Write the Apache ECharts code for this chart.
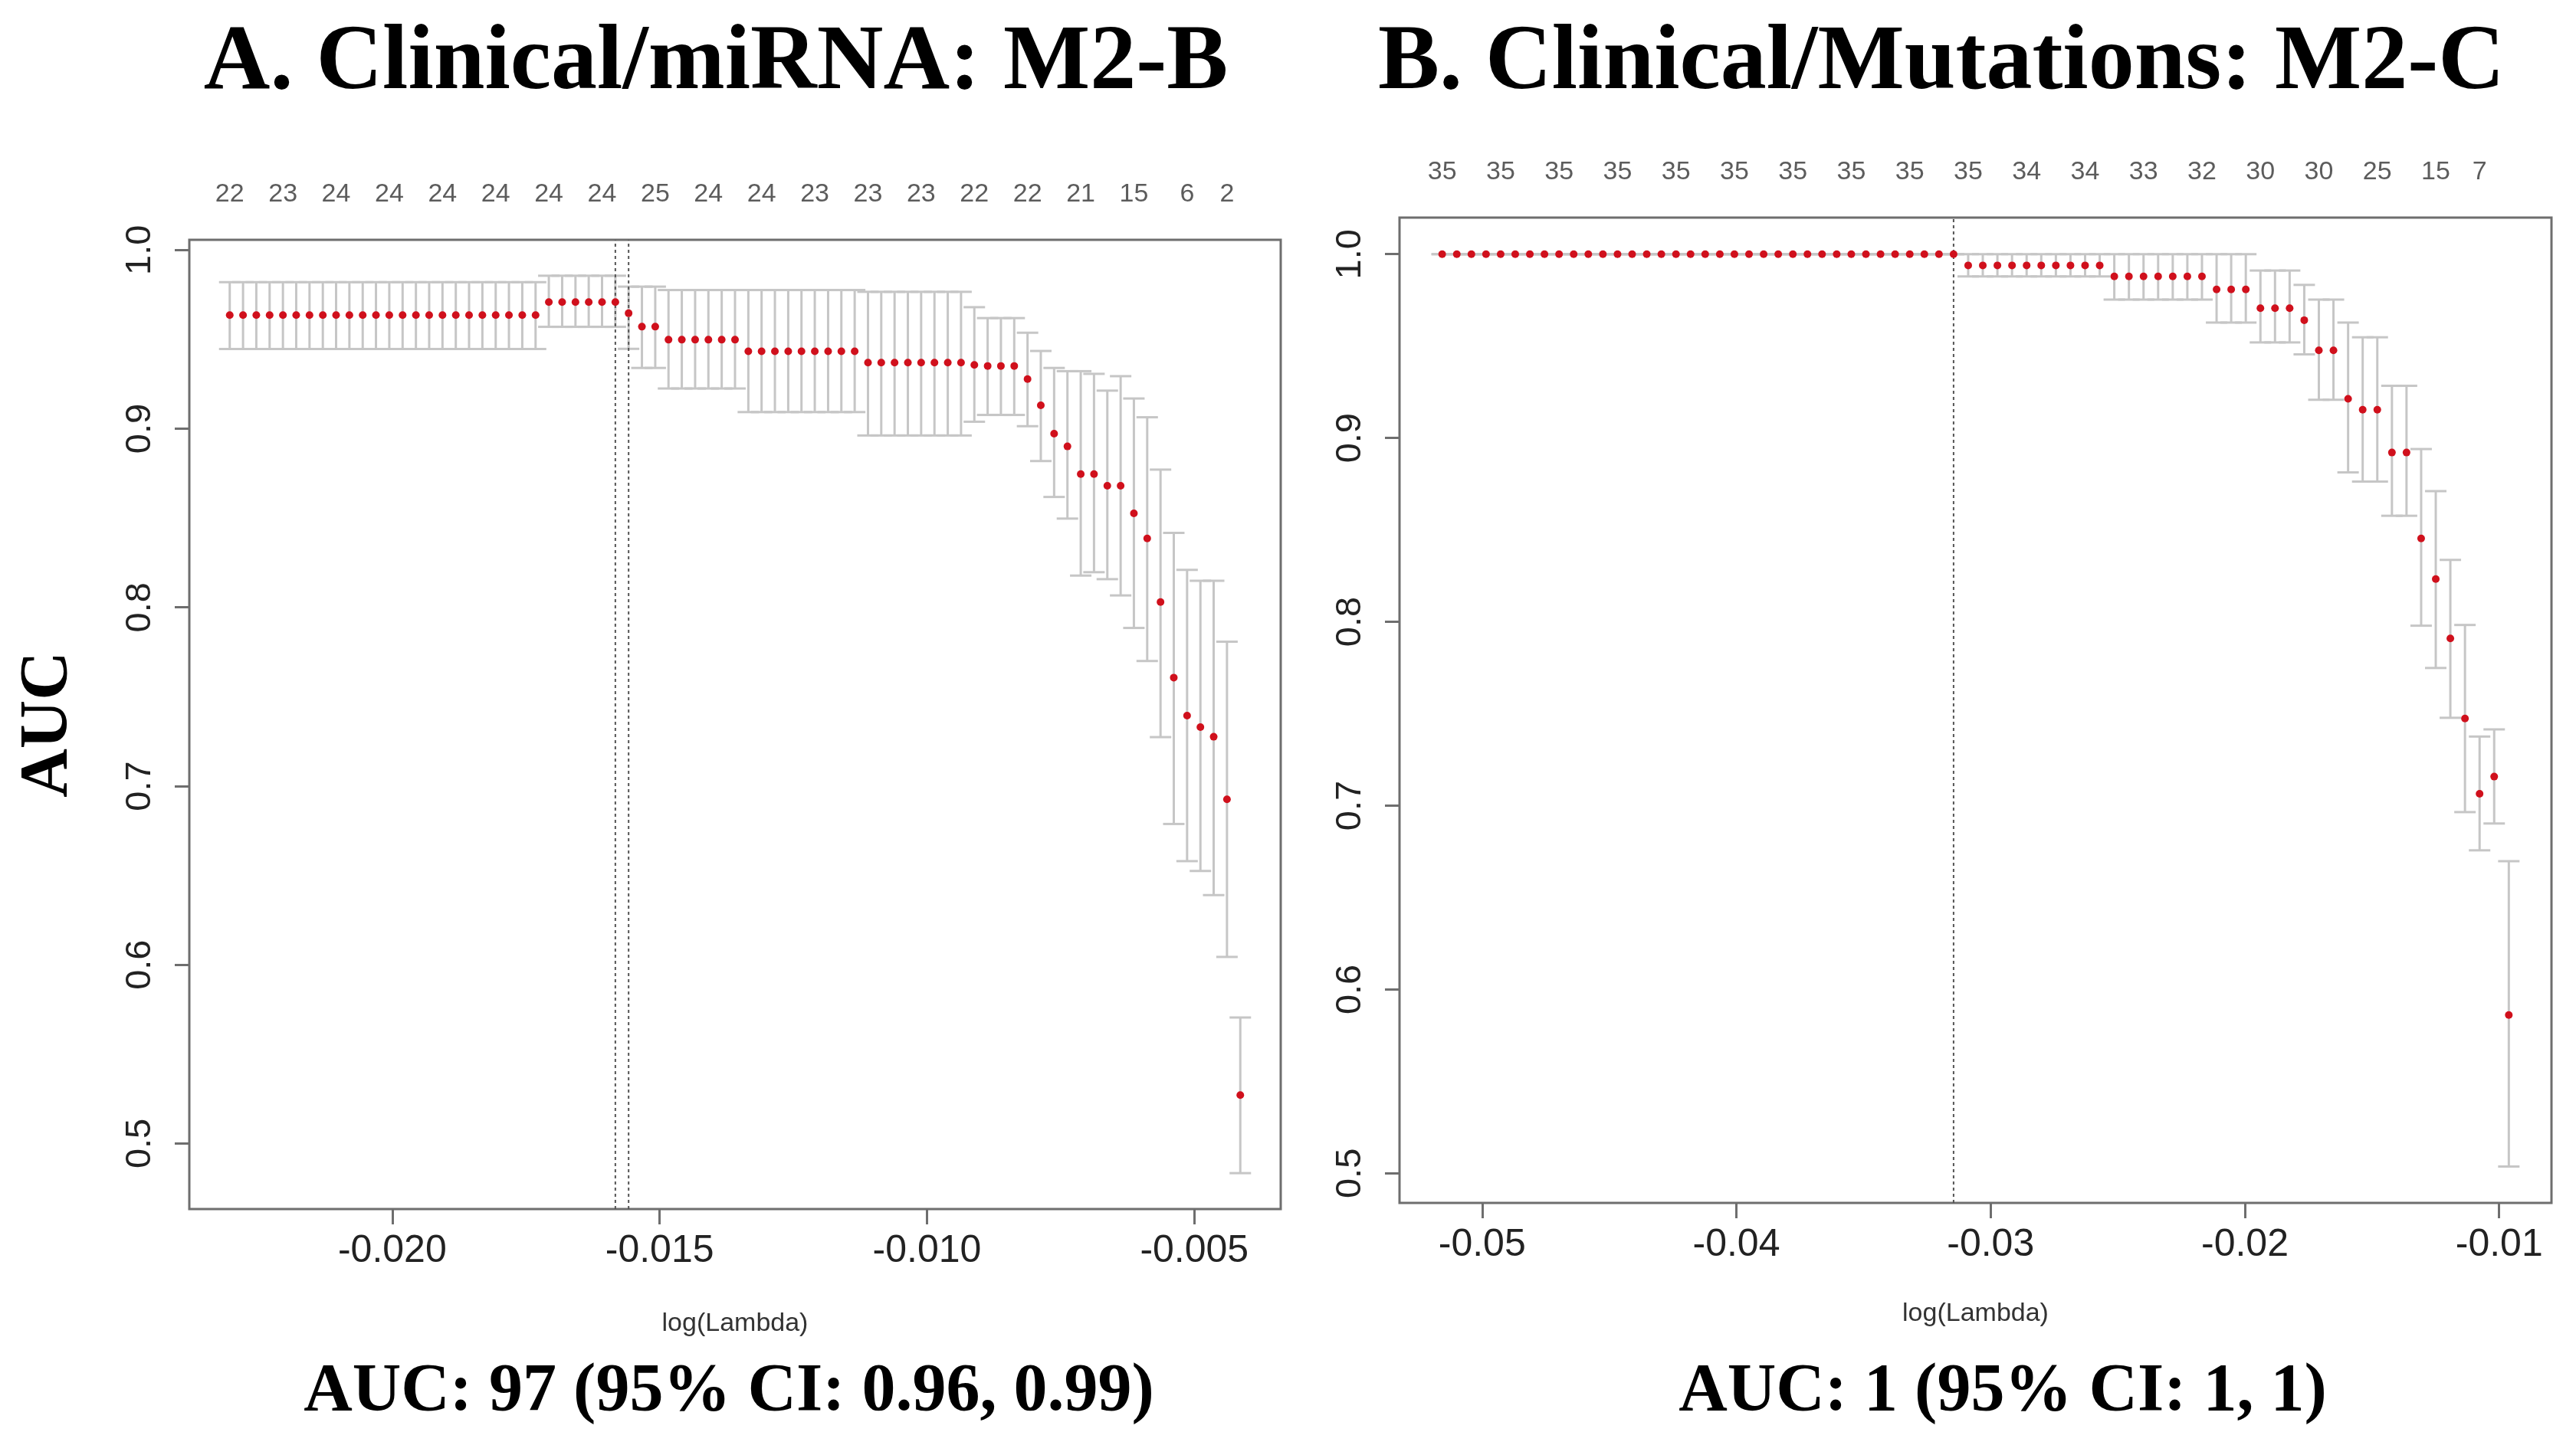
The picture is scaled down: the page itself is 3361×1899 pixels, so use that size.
<!DOCTYPE html>
<html>
<head>
<meta charset="utf-8">
<script src="https://cdn.jsdelivr.net/npm/echarts@6/dist/echarts.min.js"></script>
<style>
html,body{margin:0;padding:0;background:#ffffff;}
#chart{width:3361px;height:1899px;}
</style>
</head>
<body>
<div id="chart"></div>
<script>
// ---------------- Panel A: Clinical/miRNA (M2-B) ----------------
const leftLogLambda = [
-0.023040,-0.022791,-0.022543,-0.022294,-0.022045,-0.021797,-0.021548,-0.021299,-0.021051,-0.020802,
-0.020553,-0.020305,-0.020056,-0.019807,-0.019558,-0.019310,-0.019061,-0.018812,-0.018564,-0.018315,
-0.018066,-0.017818,-0.017569,-0.017320,-0.017072,-0.016823,-0.016574,-0.016326,-0.016077,-0.015828,
-0.015580,-0.015331,-0.015082,-0.014834,-0.014585,-0.014336,-0.014088,-0.013839,-0.013590,-0.013341,
-0.013093,-0.012844,-0.012595,-0.012347,-0.012098,-0.011849,-0.011601,-0.011352,-0.011103,-0.010855,
-0.010606,-0.010357,-0.010109,-0.009860,-0.009611,-0.009363,-0.009114,-0.008865,-0.008617,-0.008368,
-0.008119,-0.007871,-0.007622,-0.007373,-0.007124,-0.006876,-0.006627,-0.006378,-0.006130,-0.005881,
-0.005632,-0.005384,-0.005135,-0.004886,-0.004638,-0.004389,-0.004140
];
const leftAUC = [
0.9636,0.9636,0.9636,0.9636,0.9636,0.9636,0.9636,0.9636,0.9636,0.9636,
0.9636,0.9636,0.9636,0.9636,0.9636,0.9636,0.9636,0.9636,0.9636,0.9636,
0.9636,0.9636,0.9636,0.9636,0.9709,0.9709,0.9709,0.9709,0.9709,0.9709,
0.9646,0.9571,0.9571,0.9498,0.9498,0.9498,0.9498,0.9498,0.9498,0.9433,
0.9433,0.9433,0.9433,0.9433,0.9433,0.9433,0.9433,0.9433,0.9370,0.9370,
0.9370,0.9370,0.9370,0.9370,0.9370,0.9370,0.9357,0.9351,0.9351,0.9351,
0.9278,0.9131,0.8972,0.8901,0.8746,0.8746,0.8681,0.8681,0.8526,0.8386,
0.8030,0.7607,0.7394,0.7330,0.7276,0.6926,0.5271
];
const leftUpper = [
0.9820,0.9820,0.9820,0.9820,0.9820,0.9820,0.9820,0.9820,0.9820,0.9820,
0.9820,0.9820,0.9820,0.9820,0.9820,0.9820,0.9820,0.9820,0.9820,0.9820,
0.9820,0.9820,0.9820,0.9820,0.9856,0.9856,0.9856,0.9856,0.9856,0.9856,
0.9795,0.9795,0.9795,0.9776,0.9776,0.9776,0.9776,0.9776,0.9776,0.9776,
0.9776,0.9776,0.9776,0.9776,0.9776,0.9776,0.9776,0.9776,0.9766,0.9766,
0.9766,0.9766,0.9766,0.9766,0.9766,0.9766,0.9680,0.9619,0.9619,0.9619,
0.9537,0.9435,0.9340,0.9322,0.9322,0.9307,0.9213,0.9294,0.9169,0.9064,
0.8771,0.8417,0.8210,0.8149,0.8149,0.7808,0.5705
];
const leftLower = [
0.9446,0.9446,0.9446,0.9446,0.9446,0.9446,0.9446,0.9446,0.9446,0.9446,
0.9446,0.9446,0.9446,0.9446,0.9446,0.9446,0.9446,0.9446,0.9446,0.9446,
0.9446,0.9446,0.9446,0.9446,0.9570,0.9570,0.9570,0.9570,0.9570,0.9570,
0.9447,0.9340,0.9340,0.9225,0.9225,0.9225,0.9225,0.9225,0.9225,0.9093,
0.9093,0.9093,0.9093,0.9093,0.9093,0.9093,0.9093,0.9093,0.8962,0.8962,
0.8962,0.8962,0.8962,0.8962,0.8962,0.8962,0.9039,0.9077,0.9077,0.9077,
0.9014,0.8819,0.8618,0.8497,0.8178,0.8197,0.8158,0.8067,0.7885,0.7700,
0.7274,0.6788,0.6580,0.6525,0.6390,0.6044,0.4834
];
const leftNzAt = [0,4,8,12,16,20,24,28,32,36,40,44,48,52,56,60,64,68,72,75];
const leftNzLabels = ['22','23','24','24','24','24','24','24','25','24','24','23','23','23','22','22','21','15','6','2'];
const leftVLines = [-0.015828, -0.015580];
const leftXTicks = [-0.020, -0.015, -0.010, -0.005];
const leftXRange = [-0.023796, -0.003384];
const leftYRange = [0.4633, 1.0057];

// ---------------- Panel B: Clinical/Mutations (M2-C) ----------------
const rightLogLambda = [
-0.051570,-0.050995,-0.050421,-0.049846,-0.049271,-0.048697,-0.048122,-0.047547,-0.046973,-0.046398,
-0.045823,-0.045249,-0.044674,-0.044099,-0.043525,-0.042950,-0.042375,-0.041801,-0.041226,-0.040651,
-0.040077,-0.039502,-0.038927,-0.038353,-0.037778,-0.037204,-0.036629,-0.036054,-0.035480,-0.034905,
-0.034330,-0.033756,-0.033181,-0.032606,-0.032032,-0.031457,-0.030882,-0.030308,-0.029733,-0.029158,
-0.028584,-0.028009,-0.027434,-0.026860,-0.026285,-0.025710,-0.025136,-0.024561,-0.023986,-0.023412,
-0.022837,-0.022263,-0.021688,-0.021113,-0.020539,-0.019964,-0.019389,-0.018815,-0.018240,-0.017665,
-0.017091,-0.016516,-0.015941,-0.015367,-0.014792,-0.014217,-0.013643,-0.013068,-0.012493,-0.011919,
-0.011344,-0.010769,-0.010195,-0.009620
];
const rightAUC = [
1,1,1,1,1,1,1,1,1,1,1,1,1,1,1,1,1,1,1,1,1,1,1,1,1,1,1,1,1,1,1,1,1,1,1,1,
0.9939,0.9939,0.9939,0.9939,0.9939,0.9939,0.9939,0.9939,0.9939,0.9939,
0.9879,0.9879,0.9879,0.9879,0.9879,0.9879,0.9879,
0.9808,0.9808,0.9808,
0.9706,0.9706,0.9706,
0.9641,0.9477,0.9477,0.9213,0.9154,0.9154,0.8921,0.8921,0.8454,0.8233,
0.7910,0.7474,0.7065,0.7158,0.5861
];
const rightUpper = [
1,1,1,1,1,1,1,1,1,1,1,1,1,1,1,1,1,1,1,1,1,1,1,1,1,1,1,1,1,1,1,1,1,1,1,1,
1,1,1,1,1,1,1,1,1,1,
1,1,1,1,1,1,1,
1,1,1,
0.9911,0.9911,0.9911,
0.9833,0.9753,0.9753,0.9628,0.9548,0.9548,0.9284,0.9284,0.8940,0.8711,
0.8337,0.7983,0.7376,0.7415,0.6698
];
const rightLower = [
1,1,1,1,1,1,1,1,1,1,1,1,1,1,1,1,1,1,1,1,1,1,1,1,1,1,1,1,1,1,1,1,1,1,1,1,
0.9879,0.9879,0.9879,0.9879,0.9879,0.9879,0.9879,0.9879,0.9879,0.9879,
0.9753,0.9753,0.9753,0.9753,0.9753,0.9753,0.9753,
0.9628,0.9628,0.9628,
0.9520,0.9520,0.9520,
0.9455,0.9208,0.9208,0.8813,0.8763,0.8763,0.8577,0.8577,0.7979,0.7749,
0.7478,0.6965,0.6757,0.6903,0.5037
];
const rightNzAt = [0,4,8,12,16,20,24,28,32,36,40,44,48,52,56,60,64,68,71];
const rightNzLabels = ['35','35','35','35','35','35','35','35','35','35','34','34','33','32','30','30','25','15','7'];
const rightVLines = [-0.031457];
const rightXTicks = [-0.05, -0.04, -0.03, -0.02, -0.01];
const rightXRange = [-0.053248, -0.007942];
const rightYRange = [0.4839, 1.0199];

const yTicks = [0.5, 0.6, 0.7, 0.8, 0.9, 1.0];

const titles = ['A. Clinical/miRNA: M2-B', 'B. Clinical/Mutations: M2-C'];
const aucTexts = ['AUC: 97 (95% CI: 0.96, 0.99)', 'AUC: 1 (95% CI: 1, 1)'];

// ---------------- styling ----------------
const SANS = '"Liberation Sans", Arial, Helvetica, sans-serif';
const SERIF = '"Liberation Serif", "Times New Roman", serif';
const FRAME = '#6e6e6e';
const BAR = '#c6c6c6';
const DOT = '#d0101c';
const TXT = '#222222';

function errorBarRenderer(params, api) {
  const x = api.value(0), lo = api.value(1), hi = api.value(2);
  const pLo = api.coord([x, lo]);
  const pHi = api.coord([x, hi]);
  const w = 14;
  const style = { stroke: BAR, lineWidth: 3 };
  return {
    type: 'group',
    children: [
      { type: 'line', shape: { x1: pLo[0], y1: pLo[1], x2: pHi[0], y2: pHi[1] }, style },
      { type: 'line', shape: { x1: pHi[0] - w, y1: pHi[1], x2: pHi[0] + w, y2: pHi[1] }, style },
      { type: 'line', shape: { x1: pLo[0] - w, y1: pLo[1], x2: pLo[0] + w, y2: pLo[1] }, style }
    ]
  };
}

function xAxisFor(idx, range, ticks, digits, nameGap) {
  return {
    gridIndex: idx, type: 'value', min: range[0], max: range[1],
    axisLine: { show: false }, splitLine: { show: false },
    axisTick: { show: true, customValues: ticks, length: 20, lineStyle: { color: FRAME, width: 3 } },
    axisLabel: { customValues: ticks, formatter: v => v.toFixed(digits), fontSize: 50, color: TXT, margin: 30, fontFamily: SANS },
    name: 'log(Lambda)', nameLocation: 'middle', nameGap: nameGap,
    nameTextStyle: { fontSize: 34, color: '#333333', fontFamily: SANS }
  };
}
function yAxisFor(idx, range, withName) {
  const ax = {
    gridIndex: idx, type: 'value', min: range[0], max: range[1],
    axisLine: { show: false }, splitLine: { show: false },
    axisTick: { show: true, customValues: yTicks, length: 19, lineStyle: { color: FRAME, width: 3 } },
    axisLabel: { customValues: yTicks, formatter: v => v.toFixed(1), rotate: 90, fontSize: 47, color: TXT, margin: 40, fontFamily: SANS }
  };
  if (withName) {
    ax.name = 'AUC'; ax.nameLocation = 'middle'; ax.nameGap = 140; ax.nameRotate = 90;
    ax.nameTextStyle = { fontSize: 88, fontWeight: 'bold', color: '#000000', fontFamily: SERIF };
  }
  return ax;
}

function panelSeries(idx, xs, auc, lo, hi, nzAt, nzLabels, vlines, yRange) {
  const out = [
    {
      type: 'custom', xAxisIndex: idx, yAxisIndex: idx, z: 2, silent: true,
      renderItem: errorBarRenderer,
      encode: { x: 0, y: [1, 2] },
      data: xs.map((x, i) => [x, lo[i], hi[i]])
    },
    {
      type: 'scatter', xAxisIndex: idx, yAxisIndex: idx, z: 4, silent: true,
      symbol: 'circle', symbolSize: 10,
      itemStyle: { color: DOT, opacity: 1 },
      data: xs.map((x, i) => [x, auc[i]])
    },
    {
      type: 'scatter', xAxisIndex: idx, yAxisIndex: idx, z: 5, silent: true, clip: false,
      symbol: 'circle', symbolSize: 1, itemStyle: { color: 'rgba(0,0,0,0)' },
      data: nzAt.map(k => [xs[k], yRange[1]]),
      label: {
        show: true, position: 'top', distance: 42,
        formatter: p => nzLabels[p.dataIndex],
        fontSize: 34, color: '#333333', fontFamily: SANS
      }
    }
  ];
  vlines.forEach(v => {
    out.push({
      type: 'line', xAxisIndex: idx, yAxisIndex: idx, z: 3, silent: true,
      symbol: 'none', showSymbol: false,
      lineStyle: { type: [4, 4], color: '#555555', width: 2 },
      data: [[v, yRange[0]], [v, yRange[1]]]
    });
  });
  return out;
}

const chart = echarts.init(document.getElementById('chart'), null, { renderer: 'canvas' });
chart.setOption({
  backgroundColor: '#ffffff',
  animation: false,
  grid: [
    { left: 247, top: 313, width: 1424, height: 1265, show: true, borderColor: FRAME, borderWidth: 3, backgroundColor: 'rgba(0,0,0,0)' },
    { left: 1826, top: 284, width: 1503, height: 1286, show: true, borderColor: FRAME, borderWidth: 3, backgroundColor: 'rgba(0,0,0,0)' }
  ],
  xAxis: [
    xAxisFor(0, leftXRange, leftXTicks, 3, 133),
    xAxisFor(1, rightXRange, rightXTicks, 2, 128)
  ],
  yAxis: [
    yAxisFor(0, leftYRange, true),
    yAxisFor(1, rightYRange, false)
  ],
  series: [].concat(
    panelSeries(0, leftLogLambda, leftAUC, leftLower, leftUpper, leftNzAt, leftNzLabels, leftVLines, leftYRange),
    panelSeries(1, rightLogLambda, rightAUC, rightLower, rightUpper, rightNzAt, rightNzLabels, rightVLines, rightYRange)
  ),
  graphic: [
    { type: 'text', x: 934, y: 84, style: { text: titles[0], font: 'bold 120px ' + SERIF, fill: '#000', textAlign: 'center', textVerticalAlign: 'middle' } },
    { type: 'text', x: 2533, y: 84, style: { text: titles[1], font: 'bold 120px ' + SERIF, fill: '#000', textAlign: 'center', textVerticalAlign: 'middle' } },
    { type: 'text', x: 951, y: 1817, style: { text: aucTexts[0], font: 'bold 88px ' + SERIF, fill: '#000', textAlign: 'center', textVerticalAlign: 'middle' } },
    { type: 'text', x: 2613, y: 1817, style: { text: aucTexts[1], font: 'bold 88px ' + SERIF, fill: '#000', textAlign: 'center', textVerticalAlign: 'middle' } }
  ]
});
</script>
</body>
</html>
